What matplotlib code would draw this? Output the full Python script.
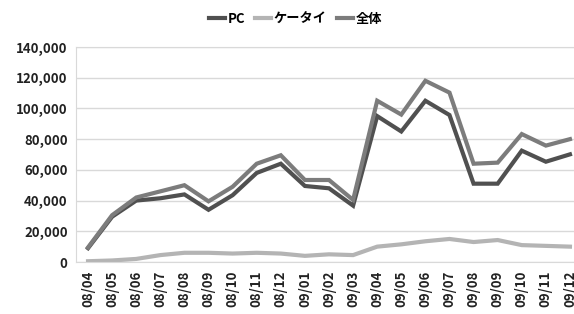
import matplotlib
matplotlib.use("Agg")
import matplotlib.pyplot as plt
from matplotlib.ticker import FuncFormatter

plt.rcParams['font.family'] = ['Noto Sans CJK JP', 'DejaVu Sans']

# 月ラベル
months = ["08/04", "08/05", "08/06", "08/07", "08/08", "08/09", "08/10", "08/11", "08/12",
          "09/01", "09/02", "09/03", "09/04", "09/05", "09/06", "09/07", "09/08", "09/09",
          "09/10", "09/11", "09/12"]

# 系列の値
pc = [9000, 29500, 40000, 41500, 44000, 34000, 43500, 58000, 64000,
      49500, 48000, 36700, 95000, 85000, 105000, 95700, 51000, 51000,
      72500, 65300, 70100]
mobile = [500, 1000, 2000, 4500, 6000, 6000, 5500, 6000, 5500,
          4000, 5000, 4500, 10000, 11500, 13500, 15000, 13000, 14300,
          11000, 10500, 10000]
total = [9500, 30500, 42000, 46000, 50000, 39500, 49000, 64000, 69500,
         53400, 53400, 40400, 105000, 96000, 118000, 110300, 64000, 64700,
         83300, 75800, 80000]

fig = plt.figure(figsize=(5.74, 3.14), dpi=100)
ax = fig.add_axes([76/574, 52/314, 506/574, 215/314])

x = range(len(months))
ax.plot(x, pc, color="#505050", lw=3, label="PC", solid_joinstyle="miter")
ax.plot(x, mobile, color="#b4b4b4", lw=3, label="ケータイ", solid_joinstyle="miter")
ax.plot(x, total, color="#7c7c7c", lw=3, label="全体", solid_joinstyle="miter")

ax.set_xlim(-0.5, len(months) - 0.5)
ax.set_ylim(0, 140000)
ax.set_yticks(range(0, 140001, 20000))
ax.yaxis.set_major_formatter(FuncFormatter(lambda v, p: f"{int(v):,}"))
ax.set_xticks(list(x))
ax.set_xticklabels(months, rotation=90)
ax.grid(axis="y", color="#d9d9d9", lw=1)
ax.set_axisbelow(True)
for s in ax.spines.values():
    s.set_color("#d9d9d9")
ax.tick_params(length=0, labelsize=9.5, colors="#222222", pad=6)
for lbl in ax.get_xticklabels() + ax.get_yticklabels():
    lbl.set_fontweight("bold")

fig.legend(loc="upper center", bbox_to_anchor=(0.515, 1.0), ncol=3, frameon=False,
           handlelength=1.2, handletextpad=0.2, columnspacing=0.8,
           prop={"size": 9.5, "weight": "bold"})

fig.savefig("out.png", dpi=100)
